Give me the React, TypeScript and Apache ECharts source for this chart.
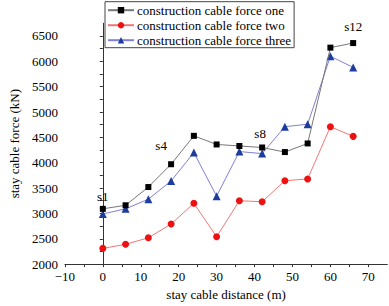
import React, { useEffect, useRef } from "react";
import * as echarts from "echarts";

const distances = [0, 6, 12, 18, 24, 30, 36, 42, 48, 54, 60, 66];
const forceOne = [3090, 3160, 3520, 3970, 4530, 4360, 4330, 4300, 4210, 4380, 6270, 6360];
const forceTwo = [2310, 2390, 2520, 2790, 3200, 2540, 3250, 3230, 3645, 3680, 4710, 4520];
const forceThree = [2990, 3090, 3280, 3640, 4200, 3340, 4220, 4180, 4710, 4760, 6100, 5880];
const pointLabels = ["s1", "", "", "s4", "", "", "", "s8", "", "", "", "s12"];
const labelOffsets: Record<string, number[]> = {
  s1: [0, -1],
  s4: [-10, -7],
  s8: [-2, -3],
  s12: [0, -5],
};
const seriesNames = [
  "construction cable force one",
  "construction cable force two",
  "construction cable force three",
];

const FONT = "Liberation Serif";

export default function App() {
  const ref = useRef<HTMLDivElement>(null);
  useEffect(() => {
    if (!ref.current) return;
    const chart = echarts.init(ref.current, null, { renderer: "svg" });
    const textStyle = { fontFamily: FONT, fontSize: 13, color: "#000" };
    const oneData = distances.map((x, i) => {
      const lab = pointLabels[i];
      const item: any = { value: [x, forceOne[i]] };
      if (lab) {
        item.label = {
          show: true,
          formatter: lab,
          position: "top",
          distance: 2,
          offset: labelOffsets[lab],
          ...textStyle,
        };
      }
      return item;
    });
    chart.setOption({
      animation: false,
      grid: { left: 58.3, right: 1.7, top: 23.3, bottom: 40.3 },
      legend: {
        orient: "vertical",
        left: 105,
        top: 1.7,
        padding: [2, 3, 1, 2],
        itemGap: 2,
        itemWidth: 26,
        itemHeight: 8,
        borderColor: "#444",
        borderWidth: 1,
        textStyle: { ...textStyle, padding: [0, 0, 0, -2] },
        data: seriesNames,
      },
      xAxis: {
        type: "value",
        min: -10,
        max: 75,
        interval: 5,
        name: "stay cable distance (m)",
        nameLocation: "middle",
        nameGap: 23,
        nameTextStyle: textStyle,
        axisLine: { lineStyle: { color: "#333", width: 1 } },
        axisTick: { inside: false, length: 3, lineStyle: { color: "#333" } },
        axisLabel: {
          ...textStyle,
          margin: 6,
          showMaxLabel: false,
          formatter: (v: number) => (v % 10 === 0 ? String(v).replace("-", "\u2212") : ""),
        },
        splitLine: { show: false },
      },
      yAxis: {
        type: "value",
        min: 2000,
        max: 6750,
        interval: 250,
        name: "stay cable force (kN)",
        nameLocation: "middle",
        nameGap: 40,
        nameTextStyle: textStyle,
        axisLine: { show: true, lineStyle: { color: "#333", width: 1 } },
        axisTick: { show: true, inside: false, length: 3, lineStyle: { color: "#333" } },
        axisLabel: {
          ...textStyle,
          margin: 7,
          showMaxLabel: false,
          formatter: (v: number) => (v % 500 === 0 ? String(v) : ""),
        },
        splitLine: { show: false },
      },
      series: [
        {
          name: seriesNames[0],
          type: "line",
          data: oneData,
          symbol: "rect",
          symbolSize: 6,
          itemStyle: { color: "#000" },
          lineStyle: { color: "#777", width: 1 },
          z: 3,
        },
        {
          name: seriesNames[1],
          type: "line",
          data: distances.map((x, i) => [x, forceTwo[i]]),
          symbol: "circle",
          symbolSize: 7,
          itemStyle: { color: "#ee1111" },
          lineStyle: { color: "#f07878", width: 1 },
          z: 2,
        },
        {
          name: seriesNames[2],
          type: "line",
          data: distances.map((x, i) => [x, forceThree[i]]),
          symbol: "triangle",
          symbolSize: 8,
          itemStyle: { color: "#1d3c9e" },
          lineStyle: { color: "#8080d8", width: 1 },
          z: 2,
        },
      ],
    });
    return () => chart.dispose();
  }, []);
  return <div ref={ref} style={{ width: 389, height: 306, position: "absolute", left: 0, top: 0, background: "#fff" }} />;
}
